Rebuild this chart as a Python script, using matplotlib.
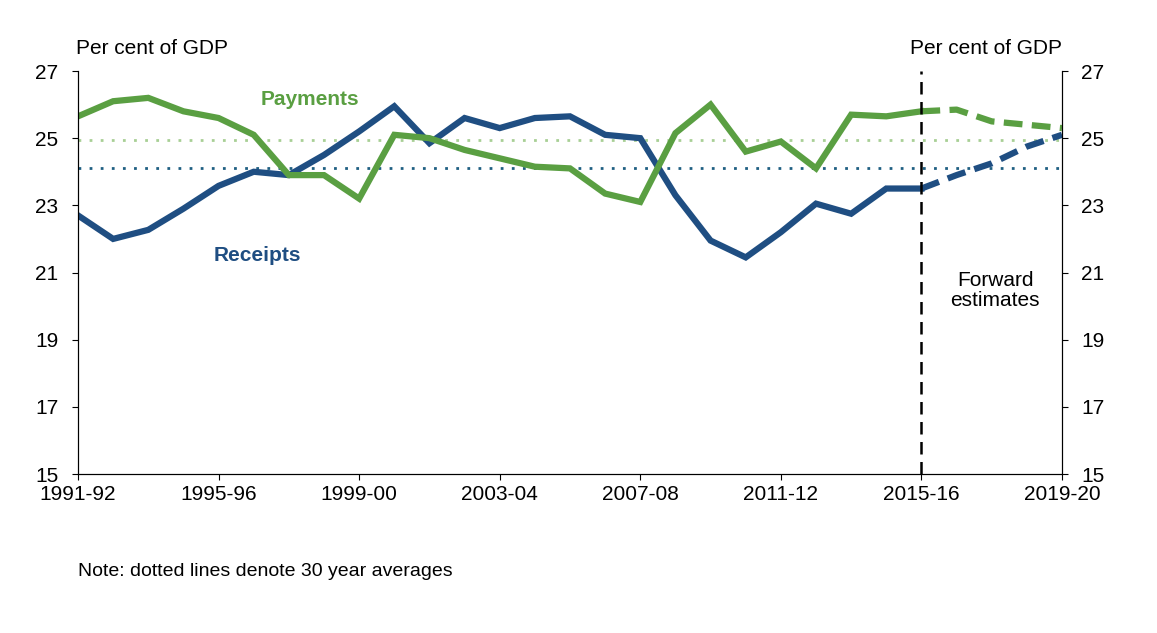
import matplotlib.pyplot as plt

years = list(range(1991, 2020))
receipts = [22.7, 22.0, 22.27, 22.9, 23.58, 24.0, 23.9, 24.5, 25.2, 25.95,
            24.85, 25.6, 25.3, 25.6, 25.65, 25.1, 25.0, 23.3, 21.95, 21.45,
            22.2, 23.05, 22.75, 23.5, 23.5, 23.9, 24.25, 24.75, 25.1]
payments = [25.65, 26.1, 26.2, 25.8, 25.6, 25.1, 23.9, 23.9, 23.2, 25.1,
            25.0, 24.65, 24.4, 24.15, 24.1, 23.35, 23.1, 25.15, 26.0, 24.6,
            24.9, 24.1, 25.7, 25.65, 25.8, 25.85, 25.5, 25.4, 25.3]
avg_receipts = 24.1
avg_payments = 24.95
split = 2015
tick_years = list(range(1991, 2020, 4))
tick_labels = ["%d-%02d" % (y, (y + 1) % 100) for y in tick_years]

plt.rcParams['font.family'] = ['Liberation Sans', 'DejaVu Sans']
blue = '#1f4e82'
green = '#5a9f42'

fig = plt.figure(figsize=(11.57, 6.33), dpi=100)
ax = fig.add_axes([78/1157, 1 - 474/633, (1062-78)/1157, (474-71)/633])
i = years.index(split)
ax.axhline(avg_payments, color='#a8cf95', ls=(0, (1, 3)), lw=2)
ax.axhline(avg_receipts, color='#1f5f82', ls=(0, (1, 3)), lw=2)
ax.plot(years[:i+1], receipts[:i+1], color=blue, lw=4.5, solid_joinstyle='miter')
ax.plot(years[i:], receipts[i:], color=blue, lw=4.5, ls=(0, (3, 1.5)))
ax.plot(years[:i+1], payments[:i+1], color=green, lw=4.5, solid_joinstyle='miter')
ax.plot(years[i:], payments[i:], color=green, lw=4.5, ls=(0, (3, 1.5)))
ax.axvline(split, color='black', ls=(0, (5, 3)), lw=1.8)

ax.set_xlim(1991, 2019)
ax.set_ylim(15, 27)
ax.set_xticks(tick_years)
ax.set_xticklabels(tick_labels, fontsize=15)
ax.set_yticks(range(15, 28, 2))
ax.tick_params(axis='y', labelsize=15, direction='out', length=4, pad=10)
ax.tick_params(axis='x', direction='out', length=4, pad=4)
ax.spines['top'].set_visible(False)
ax2 = ax.twinx()
ax2.set_ylim(15, 27)
ax2.set_yticks(range(15, 28, 2))
ax2.tick_params(axis='y', labelsize=15, direction='out', length=4, pad=10)
ax2.spines['top'].set_visible(False)

fig.text(76/1157, 1 - 48/633, 'Per cent of GDP', fontsize=15, ha='left', va='center')
fig.text(1062/1157, 1 - 48/633, 'Per cent of GDP', fontsize=15, ha='right', va='center')
ax.text(1997.6, 26.0, 'Payments', color=green, fontsize=15, fontweight='bold', ha='center')
ax.text(1996.1, 21.35, 'Receipts', color=blue, fontsize=15, fontweight='bold', ha='center')
ax.text(2017.1, 20.0, 'Forward\nestimates', fontsize=15, ha='center', linespacing=1.1)
fig.text(78/1157, 1 - 572/633, 'Note: dotted lines denote 30 year averages', fontsize=14, va='center')

fig.savefig('out.png', dpi=100)
